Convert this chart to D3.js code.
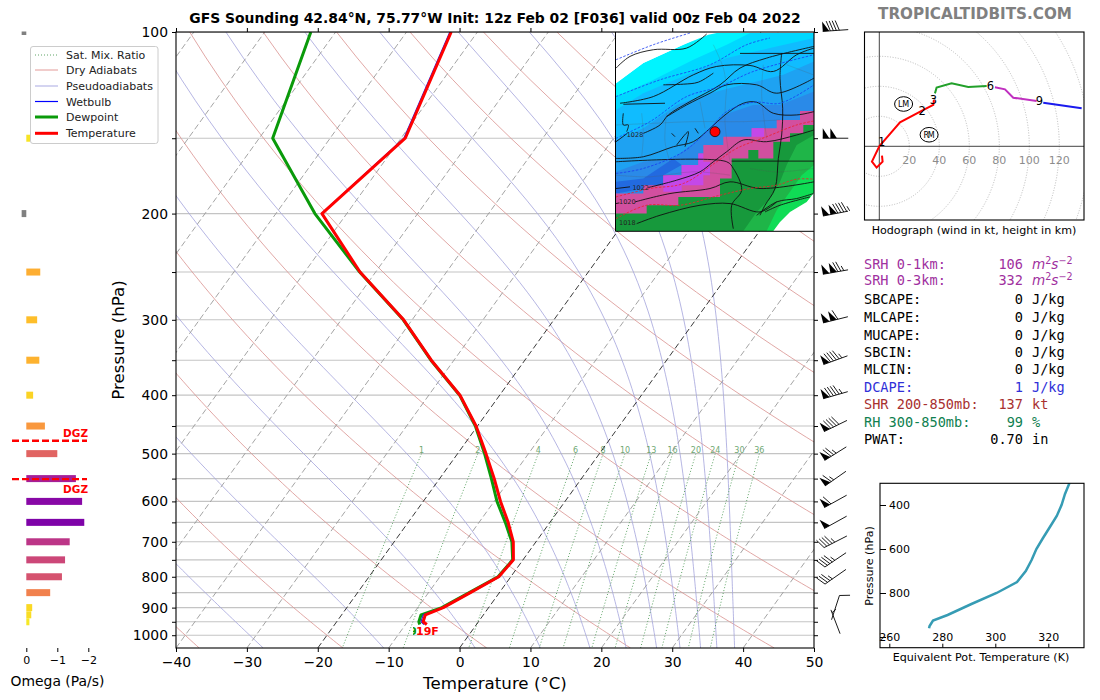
<![CDATA[<!DOCTYPE html>
<html><head><meta charset="utf-8"><style>html,body{margin:0;background:#fff;overflow:hidden}svg{display:block}text{font-family:"DejaVu Sans",sans-serif}</style>
<script src="https://cdnjs.cloudflare.com/ajax/libs/d3/7.8.5/d3.min.js"></script></head><body><svg id="c" width="1100" height="700"></svg>
<script>
// ---------- data ----------
const levels   = [100,150,200,250,300,350,400,450,500,550,600,650,700,750,800,850,900,925,950,960];
const tempC    = [-63.7,-59.4,-63.5,-52.2,-41.2,-33.2,-25.6,-20.2,-16,-12.3,-9.1,-5.9,-3.2,-1.35,-1.7,-4.1,-6.4,-8.2,-7.8,-7];
const dewC     = [-83.5,-78.1,-64.5,-52.25,-41.25,-33.25,-25.65,-20.3,-16.2,-12.7,-9.6,-6.3,-3.4,-1.45,-1.8,-4.25,-6.6,-8.8,-8.4,-8];
const wetbulbC = [-63.9,-59.6,-63.6,-52.2,-41.2,-33.2,-25.6,-20.2,-16.1,-12.4,-9.2,-6,-3.3,-1.4,-1.75,-4.15,-6.45,-8.5,-8.1,-7.4];
const omegaP   = [100,150,200,250,300,350,400,450,500,550,600,650,700,750,800,850,900,925,950];
const omega    = [0.15,-0.12,0.15,-0.45,-0.35,-0.42,-0.22,-0.6,-1,-1.6,-1.8,-1.87,-1.4,-1.25,-1.15,-0.77,-0.19,-0.16,-0.1];
const dgzP     = [476,551];
const windP    = [100,150,200,250,300,350,400,450,500,550,600,650,700,750,800,900,950];
const windDir  = [266,270,259,260,256,250,254,244,238,235,241,241,243,236,235,18,339];
const windKt   = [90,100,145,125,110,95,95,90,75,65,60,50,45,45,35,10,5];
const thetaP   = [300,350,400,450,500,550,600,650,700,750,800,850,900,925,950,960];
const thetaE   = [328,326.3,325,323.2,320.6,318,315.5,313.7,311.5,308.2,300.5,291,282,276.5,275.2,275];
const holoRed     = [[1.8,-6.2],[2.2,-10.2],[-1.8,-14.2],[-4.9,-10.2],[0,0],[3.1,3.6],[13.8,16],[28.2,23.6],[36,27.6],[36.4,30.9]];
const holoGreen   = [[37.1,35.3],[38.2,39.1],[48.2,42],[59.3,39.6],[71.6,40.2]];
const holoMagenta = [[77.1,39.3],[83.8,38],[89.3,32.4],[104.9,30.2]];
const holoBlue    = [[109.3,29.1],[134.9,25.3]];
const holoKm      = [["1",1.6,3],["2",28.5,23.8],["3",36,31.2],["6",74,40.4],["9",106.8,30.2]];
const holoStorm   = [["LM",16.2,28.2],["RM",33.2,7.7]];
const holoRings   = [20,40,60,80,100,120,140,160];
const mixRatios   = [1,2,4,6,8,10,13,16,20,24,30,36];
const dryThetaC   = [-60,-40,-20,0,20,40,60,80,100,120,140,160,180,200,220];
const moistStartC = [-27.7,-10.7,2.2,11.4,18.4,23.5,27.8,31.1,34,36.3,38.8];
const isotherms   = d3.range(-120,60,10);
const idxLabel = ["SRH 0-1km:","SRH 0-3km:","SBCAPE:","MLCAPE:","MUCAPE:","SBCIN:","MLCIN:","DCAPE:","SHR 200-850mb:","RH 300-850mb:","PWAT:"];
const idxValue = ["106","332","0","0","0","0","0","1","137","99","0.70"];
const idxUnit  = ["m2","m2","J/kg","J/kg","J/kg","J/kg","J/kg","J/kg","kt","%","in"];
const legendNames = ["Sat. Mix. Ratio","Dry Adiabats","Pseudoadiabats","Wetbulb","Dewpoint","Temperature"];
const titleText = "GFS Sounding 42.84°N, 75.77°W Init: 12z Feb 02 [F036] valid 00z Feb 04 2022";
// inset map, in its own grid
const mapBands = [
 ["#00f4ff",[[18,175],[100,115],[220,60],[295,30],[320,25],[612,25],[612,617],[18,617]]],
 ["#00d8ff",[[18,215],[120,170],[250,105],[350,60],[420,25],[612,25],[612,617],[18,617]]],
 ["#10bcff",[[18,255],[100,205],[230,150],[350,100],[480,70],[612,40],[612,617],[18,617]]],
 ["#1ea2f2",[[18,345],[100,310],[200,240],[300,205],[400,180],[520,150],[612,110],[612,617],[18,617]]],
 ["#2a8ae8",[[18,440],[100,410],[190,400],[270,340],[340,270],[430,240],[510,240],[612,200],[612,617],[18,617]]],
 ["#226ae0",[[18,470],[100,460],[190,400],[215,420],[160,450],[160,480],[18,505]]],
 ["#d24f9f",[[18,505],[100,505],[100,480],[160,480],[160,450],[215,450],[215,420],[265,420],[265,385],[280,385],[280,360],[340,360],[340,335],[425,335],[425,310],[500,310],[500,285],[570,285],[570,258],[612,258],[612,617],[18,617]]],
 ["#c448e8",[[160,480],[160,450],[215,450],[215,420],[265,420],[265,385],[280,385],[280,410],[300,410],[300,450],[280,450],[280,480],[215,480],[215,500],[160,500]]],
 ["#c448e8",[[425,335],[425,310],[462,310],[462,335]]],
 ["#17993c",[[18,565],[110,565],[110,540],[205,540],[205,515],[330,515],[330,460],[365,460],[365,400],[415,400],[415,375],[445,375],[445,400],[490,400],[490,350],[540,350],[540,325],[580,325],[580,300],[612,300],[612,617],[18,617]]],
 ["#1fb548",[[612,330],[560,360],[530,420],[510,470],[480,520],[440,560],[400,617],[612,617]]],
 ["#10dc55",[[612,420],[575,450],[540,500],[500,555],[470,617],[612,617]]],
 ["#fff",[[612,503],[590,530],[540,560],[510,590],[490,617],[612,617]]],
 ["#fff",[[18,25],[295,25],[220,60],[100,115],[18,175]]]
];
const mapCounties = [
 [[95,265],[100,330],[95,395]],[[170,265],[165,350],[180,410]],[[270,230],[285,310]],[[350,190],[345,290],[360,410]],[[460,120],[455,210],[470,340]],
 [[18,300],[130,295],[250,290],[400,290],[510,285]],[[310,60],[340,130],[350,190]],[[18,450],[120,455],[250,440],[360,450]],[[420,430],[500,440],[610,430]],[[530,120],[610,150]]
];
const mapIsobars = [
 [[100,325],[150,300],[175,270],[240,230],[330,180],[390,130],[470,100],[612,65]],
 [[18,400],[100,395],[190,365],[250,350],[300,310],[345,270],[400,235],[440,232],[490,265],[560,270],[612,260]],
 [[115,487],[200,465],[270,440],[310,410],[350,380],[400,345],[470,350],[560,330],[612,315]],
 [[75,530],[180,505],[300,490],[360,470],[450,490],[612,470]],
 [[80,595],[150,570],[270,540],[360,535],[450,560],[500,530]],
 [[170,275],[230,240],[300,205],[350,180],[440,180],[500,205],[612,160]],
 [[30,235],[130,215],[250,150],[320,125],[420,122],[490,140],[560,90],[612,70]],
 [[18,490],[60,485]],[[18,350],[52,325]],[[18,535],[28,533]]
];
const mapBorders = [
 [[390,86],[612,86]],[[40,238],[165,235]],[[18,410],[350,410],[370,430],[395,495],[365,540],[370,610]],[[365,408],[612,408]],
 [[515,85],[510,160],[518,250],[515,330],[505,400],[495,490],[465,540],[450,570]],
 [[40,265],[40,300],[55,300],[50,320]],[[160,180],[220,178],[265,172],[310,145]],[[200,360],[235,320],[225,365]],[[185,325],[195,335]],[[255,310],[265,325]],
 [[440,570],[500,530],[560,520],[610,505]],[[465,560],[510,540],[600,515]],[[18,130],[60,95],[130,75],[230,70],[290,28]]
];
const mapBlue = [
 [[18,105],[130,60],[240,25]],[[18,215],[150,165],[300,120],[410,60],[480,40]],
 [[18,340],[120,290],[230,215],[330,185],[430,140],[612,90]],
 [[18,445],[100,430],[220,380],[300,310],[350,260],[430,232],[510,235],[612,180]]
];
const mapRed = [
 [[18,515],[120,490],[220,475],[320,410],[380,370],[470,335],[560,300],[612,288]],
 [[18,580],[110,540],[210,540],[330,510],[420,490],[500,480],[560,462],[612,462]]
];
const mapLabels = [["1028",75,330],["1022",92,487],["1020",52,530],["1018",52,592]];
const mapStation = [315,320];

// ---------- scales ----------
const svg = d3.select("#c");
const F = {l:176,r:814,t:32,b:648}, SKEW = 0.7195;
const x = d3.scaleLinear([-40,50],[F.l,F.r]);
const y = d3.scaleLog([100,1050],[F.t,F.b]);
const sx = (T,p)=> x(T)+(y(1050)-y(p))*SKEW;
const defs = svg.append("defs");
defs.append("clipPath").attr("id","mainClip").append("rect").attr("x",F.l).attr("y",F.t).attr("width",F.r-F.l).attr("height",F.b-F.t);
defs.append("clipPath").attr("id","hodoClip").append("rect").attr("x",864.5).attr("y",32).attr("width",219.5).attr("height",188);
defs.append("clipPath").attr("id","mapClip").append("rect").attr("x",616).attr("y",32.5).attr("width",198).attr("height",198.5);
defs.append("clipPath").attr("id","sfcClip").append("rect").attr("x",413).attr("y",620).attr("width",3.5).attr("height",20);
const main = svg.append("g").attr("clip-path","url(#mainClip)");
const tpLine = d3.line().x(d=>sx(d[0],d[1])).y(d=>y(d[1]));
const pGrid = d3.range(100,1051,10);
const pMajor = d3.range(100,1001,100), pMinor = d3.range(150,1000,100);

// grid
main.selectAll(".g").data(pMajor.concat(pMinor)).join("line").attr("x1",F.l).attr("x2",F.r).attr("y1",d=>y(d)).attr("y2",d=>y(d)).attr("stroke","#c4c4c4").attr("stroke-width",1.1);
// dry adiabats
main.selectAll(".d").data(dryThetaC).join("path").attr("fill","none").attr("stroke","#d9928f").attr("stroke-width",.8)
 .attr("d",t=>tpLine(pGrid.map(p=>[(t+273.15)*Math.pow(p/1000,0.2857)-273.15,p])));
// moist adiabats
function moist(t0){
 const pts=[];let T=t0+273.15,p=1050;const st=-0.5;
 while(p>=99.9){pts.push([T-273.15,p]);
  const es=6.112*Math.exp(17.67*(T-273.15)/(T-29.65));const rs=.622*es/(p-es);
  const dT=((287*T+2.5e6*rs)/(1004+2.5e6*2.5e6*rs*.622/(287*T*T)))/p;
  T+=dT*st;p+=st;}
 return pts.filter((d,i)=>i%20==0);
}
main.selectAll(".m").data(moistStartC).join("path").attr("fill","none").attr("stroke","#a3a3dc").attr("stroke-width",.8).attr("d",t=>tpLine(moist(t)));
// mixing ratio
const tdOf=(w,p)=>{const l=Math.log(w*p/(622+w)/6.112);return 243.5*l/(17.67-l);};
const pMix=d3.range(500,1051,25);
main.selectAll(".w").data(mixRatios).join("path").attr("fill","none").attr("stroke","#4d9a55").attr("stroke-width",.9).attr("stroke-dasharray","1 2")
 .attr("d",w=>tpLine(pMix.map(p=>[tdOf(w,p),p])));
main.selectAll(".wt").data(mixRatios).join("text").attr("x",w=>sx(tdOf(w,500),500)).attr("y",y(500)).attr("dy",-1).attr("text-anchor","middle").attr("font-size",8).attr("fill","#6fa873").text(d=>d);
// isotherms
main.selectAll(".t").data(isotherms).join("path").attr("fill","none")
 .attr("stroke",d=>(d==0||d==-20)?"#222":"#9a9a9a").attr("stroke-width",.9).attr("stroke-dasharray","6 3")
 .attr("d",t=>tpLine([[t,1050],[t,100]]));
// profile lines
const profile=(arr,col,w)=>main.append("path").datum(levels.map((p,i)=>[arr[i],p])).attr("fill","none").attr("stroke",col).attr("stroke-width",w).attr("stroke-linejoin","round").attr("d",tpLine);
profile(dewC,"#0a9a0a",3);profile(wetbulbC,"#2020e8",1.1);profile(tempC,"#ff0000",3);
svg.append("text").attr("clip-path","url(#sfcClip)").attr("x",417).attr("y",635).attr("text-anchor","end").attr("fill","#0a9a0a").attr("font-size",11).attr("font-weight","bold").text("9");
svg.append("text").attr("x",416).attr("y",635).attr("fill","#f00").attr("font-size",11).attr("font-weight","bold").text("19F");

// inset map
const mx=d3.scaleLinear([18,612],[616,814]), my=d3.scaleLinear([25,617],[33,231]);
const mapG=svg.append("g").attr("clip-path","url(#mapClip)");
const mapLine=d3.line().x(d=>mx(d[0])).y(d=>my(d[1]));
const smooth=d3.line().x(d=>mx(d[0])).y(d=>my(d[1])).curve(d3.curveCatmullRom);
mapG.append("rect").attr("x",616).attr("y",32).attr("width",198).attr("height",199).attr("fill","#fff");
mapG.selectAll(".b").data(mapBands).join("path").attr("fill",d=>d[0]).attr("d",d=>mapLine(d[1])+"Z");
mapG.selectAll(".cn").data(mapCounties).join("path").attr("fill","none").attr("stroke","#555").attr("stroke-opacity",.35).attr("stroke-width",.6).attr("d",smooth);
mapG.selectAll(".bd").data(mapBorders).join("path").attr("fill","none").attr("stroke","#111").attr("stroke-width",.9).attr("d",smooth);
mapG.selectAll(".ib").data(mapIsobars).join("path").attr("fill","none").attr("stroke","#111").attr("stroke-width",.9).attr("d",smooth);
mapG.selectAll(".bl").data(mapBlue).join("path").attr("fill","none").attr("stroke","#1a3cf0").attr("stroke-width",.8).attr("stroke-dasharray","2.5 1.5").attr("d",smooth);
mapG.selectAll(".rd").data(mapRed).join("path").attr("fill","none").attr("stroke","#f0202a").attr("stroke-width",.8).attr("stroke-dasharray","2.5 1.5").attr("d",smooth);
mapG.selectAll(".ml").data(mapLabels).join("text").attr("x",d=>mx(d[1])).attr("y",d=>my(d[2])+2).attr("text-anchor","middle").attr("font-size",6.5).attr("fill","#222").text(d=>d[0]);
mapG.append("circle").attr("cx",mx(mapStation[0])).attr("cy",my(mapStation[1])).attr("r",5).attr("fill","#f00").attr("stroke","#000").attr("stroke-width",.7);
svg.append("path").attr("d",`M${mx(18)-.5},32V${my(617)+.3}H814`).attr("fill","none").attr("stroke","#000").attr("stroke-width",1);

// main axes
const frame=(g,l,t,r,b)=>g.append("rect").attr("x",l).attr("y",t).attr("width",r-l).attr("height",b-t).attr("fill","none").attr("stroke","#000").attr("stroke-width",1.1);
frame(svg,F.l,F.t,F.r,F.b);
const axisStyle=(g,fs)=>{g.select(".domain").remove();g.selectAll("text").attr("font-size",fs).attr("fill","#000");g.selectAll("line").attr("stroke","#000");};
const yAll=pMajor.concat(pMinor);
svg.append("g").attr("transform",`translate(${F.l},0)`).call(d3.axisLeft(y).tickValues(yAll).tickSize(4).tickPadding(4).tickFormat(d=>d%100==0?d:"")).call(axisStyle,13.9);
svg.append("g").attr("transform",`translate(${F.r},0)`).call(d3.axisRight(y).tickValues(yAll).tickSize(4).tickFormat("")).call(axisStyle,13.9);
svg.append("g").attr("transform",`translate(0,${F.b})`).call(d3.axisBottom(x).ticks(9).tickSize(4).tickPadding(5)).call(axisStyle,13.9);
svg.append("g").attr("transform",`translate(0,${F.t})`).call(d3.axisTop(x).ticks(9).tickSize(4).tickFormat("")).call(axisStyle,13.9);
svg.append("text").attr("x",495).attr("y",689).attr("text-anchor","middle").attr("font-size",16.67).text("Temperature (°C)");
svg.append("text").attr("transform","translate(123.5,340) rotate(-90)").attr("text-anchor","middle").attr("font-size",16.67).text("Pressure (hPa)");
svg.append("text").attr("x",495).attr("y",23).attr("text-anchor","middle").attr("font-size",13.9).attr("font-weight","bold").text(titleText);
svg.append("text").attr("x",975).attr("y",19).attr("text-anchor","middle").attr("font-size",15.2).attr("font-weight","bold").attr("fill","#808080").text("TROPICALTIDBITS.COM");

// omega
const ox=d3.scaleLinear([0,-2],[26.3,88.3]);
const ocolor=v=>v>0?"#808080":d3.interpolatePlasma(1-Math.abs(v)/2.5);
svg.append("g").selectAll("rect").data(omegaP).join("rect")
 .attr("x",(p,i)=>Math.min(ox(0),ox(omega[i]))).attr("width",(p,i)=>Math.abs(ox(omega[i])-ox(0)))
 .attr("y",p=>p==100?y(p)-0.5:y(p)-3.5).attr("height",p=>p==100?3.5:7).attr("fill",(p,i)=>ocolor(omega[i]));
svg.append("g").selectAll("line").data(dgzP).join("line").attr("x1",12).attr("x2",87).attr("y1",d=>y(d)).attr("y2",d=>y(d)).attr("stroke","#f00").attr("stroke-width",2.4).attr("stroke-dasharray","7 3");
svg.append("g").selectAll("text").data(dgzP).join("text").attr("x",88).attr("y",(d,i)=>i==0?y(d)-4:y(d)+14).attr("text-anchor","end").attr("font-size",10.5).attr("font-weight","bold").attr("fill","#f00").text("DGZ");
svg.append("g").attr("transform",`translate(0,${F.b})`).call(d3.axisBottom(ox).tickValues([0,-1,-2]).tickSize(4).tickPadding(4).tickFormat(d3.format("d"))).call(axisStyle,11);
svg.append("text").attr("x",57.5).attr("y",686).attr("text-anchor","middle").attr("font-size",13.9).text("Omega (Pa/s)");

// barbs
function barb(g,cx,cy,dir,spd){
 const a=dir*Math.PI/180,d=[Math.sin(a),-Math.cos(a)],n=[-d[1],d[0]],L=25.5;
 const P=(s,h)=>[cx+d[0]*(s-L/2)+n[0]*h,cy+d[1]*(s-L/2)+n[1]*h];
 const st=g.append("g");
 st.append("path").attr("d",d3.line()([P(0,0),P(L,0)])).attr("stroke","#000").attr("stroke-width",.9).attr("fill","none");
 let v=Math.round(spd/5)*5,s=L;
 while(v>=50){st.append("path").attr("d",d3.line()([P(s,0),P(s,10),P(s-6.5,0)])+"Z").attr("fill","#000");s-=7.6;v-=50;}
 while(v>=10){st.append("path").attr("d",d3.line()([P(s,0),P(s+3.5,10)])).attr("stroke","#000").attr("stroke-width",.9);s-=3;v-=10;}
 if(v>=5){if(s==L)s-=3;st.append("path").attr("d",d3.line()([P(s,0),P(s+1.8,5)])).attr("stroke","#000").attr("stroke-width",.9);}
}
const barbG=svg.append("g");
windP.forEach((p,i)=>barb(barbG,835.5,y(p)-(p==100?1.5:0),windDir[i],windKt[i]));

// hodograph
const hk=d3.scaleLinear([0,120],[879.3,1059.3]), hv=d3.scaleLinear([0,76],[146.3,32.3]);
const hg=svg.append("g").attr("clip-path","url(#hodoClip)");
hg.selectAll("circle").data(holoRings).join("circle").attr("cx",hk(0)).attr("cy",hv(0)).attr("r",d=>hk(d)-hk(0)).attr("fill","none").attr("stroke","#aaa").attr("stroke-width",.8).attr("stroke-dasharray","1 1.6");
hg.append("line").attr("x1",hk(0)).attr("x2",hk(0)).attr("y1",30).attr("y2",222).attr("stroke","#444").attr("stroke-width",1);
hg.append("line").attr("x1",860).attr("x2",1090).attr("y1",hv(0)).attr("y2",hv(0)).attr("stroke","#444").attr("stroke-width",1);
const hl=d3.line().x(d=>hk(d[0])).y(d=>hv(d[1]));
[[holoRed,"#ff0000"],[holoGreen,"#22a02a"],[holoMagenta,"#c030c0"],[holoBlue,"#1a1aee"]].forEach(([a,c])=>hg.append("path").attr("d",hl(a)).attr("fill","none").attr("stroke",c).attr("stroke-width",2));
hg.selectAll(".tk").data(holoRings.slice(0,6)).join("text").attr("x",d=>hk(d)).attr("y",164).attr("text-anchor","middle").attr("font-size",11).attr("fill","#8c8c8c").text(d=>d);
hg.selectAll(".km").data(holoKm).join("text").attr("x",d=>hk(d[1])).attr("y",d=>hv(d[2])+4).attr("text-anchor","middle").attr("font-size",11.5).attr("fill","#000").text(d=>d[0]);
holoStorm.forEach(d=>{hg.append("ellipse").attr("cx",hk(d[1])).attr("cy",hv(d[2])).attr("rx",9).attr("ry",7.3).attr("fill","none").attr("stroke","#000").attr("stroke-width",1);
 hg.append("text").attr("x",hk(d[1])).attr("y",hv(d[2])+3).attr("text-anchor","middle").attr("font-size",8).attr("textLength",11).text(d[0]);});
frame(svg,864.5,32,1084,220);
svg.append("text").attr("x",974).attr("y",234).attr("text-anchor","middle").attr("font-size",11.1).text("Hodograph (wind in kt, height in km)");

// indices
const idxY=[265,281,300,318,336,353,370,388,405,423,440];
const idxCol=["#a030a0","#a030a0","#000","#000","#000","#000","#000","#3030d8","#a83030","#108050","#000"];
const mono='"DejaVu Sans Mono",monospace';
idxLabel.forEach((t,i)=>{
 const g=svg.append("g").attr("fill",idxCol[i]).attr("font-size",13.6);
 g.append("text").attr("x",864).attr("y",idxY[i]+4).style("font-family",mono).text(t);
 g.append("text").attr("x",1023).attr("y",idxY[i]+4).attr("text-anchor","end").style("font-family",mono).text(idxValue[i]);
 if(idxUnit[i]=="m2"){
  const u=g.append("text").attr("x",1032).attr("y",idxY[i]+4).attr("font-style","italic").attr("font-size",13.6);
  u.append("tspan").text("m");u.append("tspan").attr("dy",-5).attr("font-size",9.6).attr("font-style","normal").text("2");
  u.append("tspan").attr("dy",5).text("s");u.append("tspan").attr("dy",-5).attr("font-size",9.6).attr("font-style","normal").text("−2");
 } else g.append("text").attr("x",1032).attr("y",idxY[i]+4).style("font-family",mono).text(idxUnit[i]);
});

// theta-e
const tx=d3.scaleLinear([260,320],[889.3,1048.3]), ty=d3.scaleLinear([400,800],[505,593]);
const TB={l:880,r:1084,t:483.3,b:647.7};
defs.append("clipPath").attr("id","teClip").append("rect").attr("x",TB.l).attr("y",TB.t).attr("width",TB.r-TB.l).attr("height",TB.b-TB.t);
svg.append("path").attr("clip-path","url(#teClip)").attr("d",d3.line().x((p,i)=>tx(thetaE[i])).y(p=>ty(p))(thetaP)).attr("fill","none").attr("stroke","#369cb4").attr("stroke-width",2.5);
svg.append("g").attr("transform",`translate(${TB.l},0)`).call(d3.axisRight(ty).tickValues([400,600,800,1000]).tickSize(6).tickPadding(3).tickFormat(d=>d==1000?"":d)).call(axisStyle,11);
svg.append("g").attr("transform",`translate(0,${TB.b})`).call(d3.axisTop(tx).tickValues([260,280,300,320]).tickSize(4).tickPadding(3)).call(axisStyle,11);
frame(svg,TB.l,TB.t,TB.r,TB.b);
svg.append("text").attr("x",981).attr("y",661).attr("text-anchor","middle").attr("font-size",11.1).text("Equivalent Pot. Temperature (K)");
svg.append("text").attr("transform","translate(873,566) rotate(-90)").attr("text-anchor","middle").attr("font-size",11.1).text("Pressure (hPa)");

// legend
const lg=svg.append("g");
lg.append("rect").attr("x",30.5).attr("y",46.5).attr("width",127.5).attr("height",97).attr("rx",2.5).attr("fill","#fff").attr("fill-opacity",.9).attr("stroke","#ccc").attr("stroke-width",1);
const legY=[55,70,86,101.5,117,133.3];
const legCol=["#4d9a55","#e39a98","#a9a9e2","#0000ff","#0a9a0a","#ff0000"],legW=[.9,1,1,1.2,3,3];
legendNames.forEach((t,i)=>{
 lg.append("line").attr("x1",35).attr("x2",58).attr("y1",legY[i]).attr("y2",legY[i]).attr("stroke",legCol[i]).attr("stroke-width",legW[i]).attr("stroke-dasharray",i==0?"1 2":null);
 lg.append("text").attr("x",66).attr("y",legY[i]+4).attr("font-size",11).attr("fill","#222").text(t);
});
</script></body></html>]]>
